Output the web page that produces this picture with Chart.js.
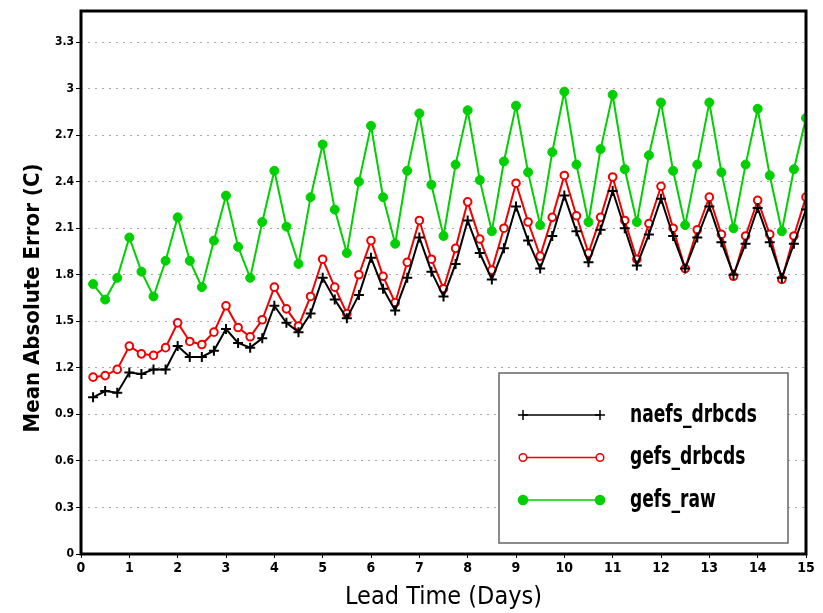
<!DOCTYPE html>
<html lang="en">
  <head>
    <meta charset="UTF-8" />
    <title>Mean Absolute Error</title>
    <script src="https://cdn.jsdelivr.net/npm/chart.js@4.4.1/dist/chart.umd.min.js"></script>
    <style>
      html,
      body {
        margin: 0;
        padding: 0;
        background: white;
      }
    </style>
  </head>
  <body>
    <canvas id="maeChart" width="823" height="613"></canvas>
    <script>
      // lead time (days), one point every 6 h
      const leadDays = [
        0.25, 0.5, 0.75, 1, 1.25, 1.5, 1.75, 2, 2.25, 2.5, 2.75, 3, 3.25, 3.5,
        3.75, 4, 4.25, 4.5, 4.75, 5, 5.25, 5.5, 5.75, 6, 6.25, 6.5, 6.75, 7,
        7.25, 7.5, 7.75, 8, 8.25, 8.5, 8.75, 9, 9.25, 9.5, 9.75, 10, 10.25,
        10.5, 10.75, 11, 11.25, 11.5, 11.75, 12, 12.25, 12.5, 12.75, 13, 13.25,
        13.5, 13.75, 14, 14.25, 14.5, 14.75, 15,
      ];

      const naefsDrbcds = [
        1.01, 1.05, 1.04, 1.17, 1.16, 1.19, 1.19, 1.34, 1.27, 1.27, 1.31, 1.45,
        1.36, 1.33, 1.39, 1.6, 1.49, 1.43, 1.55, 1.78, 1.64, 1.52, 1.67, 1.91,
        1.71, 1.57, 1.78, 2.04, 1.82, 1.66, 1.87, 2.15, 1.94, 1.77, 1.97, 2.24,
        2.02, 1.84, 2.05, 2.31, 2.08, 1.88, 2.09, 2.34, 2.1, 1.86, 2.06, 2.29,
        2.05, 1.84, 2.04, 2.24, 2.01, 1.8, 2.0, 2.23, 2.01, 1.78, 2.0, 2.22,
      ];

      const gefsDrbcds = [
        1.14, 1.15, 1.19, 1.34, 1.29, 1.28, 1.33, 1.49, 1.37, 1.35, 1.43, 1.6,
        1.46, 1.4, 1.51, 1.72, 1.58, 1.47, 1.66, 1.9, 1.72, 1.55, 1.8, 2.02,
        1.79, 1.62, 1.88, 2.15, 1.9, 1.71, 1.97, 2.27, 2.03, 1.83, 2.1, 2.39,
        2.14, 1.92, 2.17, 2.44, 2.18, 1.94, 2.17, 2.43, 2.15, 1.9, 2.13, 2.37,
        2.1, 1.84, 2.09, 2.3, 2.06, 1.79, 2.05, 2.28, 2.06, 1.77, 2.05, 2.3,
      ];

      const gefsRaw = [
        1.74, 1.64, 1.78, 2.04, 1.82, 1.66, 1.89, 2.17, 1.89, 1.72, 2.02, 2.31,
        1.98, 1.78, 2.14, 2.47, 2.11, 1.87, 2.3, 2.64, 2.22, 1.94, 2.4, 2.76,
        2.3, 2.0, 2.47, 2.84, 2.38, 2.05, 2.51, 2.86, 2.41, 2.08, 2.53, 2.89,
        2.46, 2.12, 2.59, 2.98, 2.51, 2.14, 2.61, 2.96, 2.48, 2.14, 2.57, 2.91,
        2.47, 2.12, 2.51, 2.91, 2.46, 2.1, 2.51, 2.87, 2.44, 2.08, 2.48, 2.81,
      ];

      const yTicks = [0, 0.3, 0.6, 0.9, 1.2, 1.5, 1.8, 2.1, 2.4, 2.7, 3, 3.3];
      const xTicks = [0, 1, 2, 3, 4, 5, 6, 7, 8, 9, 10, 11, 12, 13, 14, 15];

      const FONT = "'Liberation Sans Narrow', 'DejaVu Sans Condensed', 'Liberation Sans', sans-serif";

      const points = (vals) => leadDays.map((d, i) => ({ x: d, y: vals[i] }));

      // thick black box round the plot area
      const frame = {
        id: "frame",
        afterDraw(chart) {
          const { ctx, chartArea: a } = chart;
          ctx.save();
          ctx.strokeStyle = "#000";
          ctx.lineWidth = 3;
          ctx.strokeRect(a.left, a.top, a.right - a.left, a.bottom - a.top);
          ctx.restore();
        },
      };

      // y title sits a bit below the axis centre in the original
      const yTitle = {
        id: "yTitle",
        afterDraw(chart) {
          const { ctx } = chart;
          ctx.save();
          ctx.translate(33, 298);
          ctx.rotate(-Math.PI / 2);
          ctx.font = "bold 22px " + FONT;
          ctx.fillStyle = "#000";
          ctx.textAlign = "center";
          ctx.textBaseline = "middle";
          ctx.fillText("Mean Absolute Error (C)", 0, 0);
          ctx.restore();
        },
      };

      // legend box inside the lower right of the plot
      const boxLegend = {
        id: "boxLegend",
        afterDatasetsDraw(chart) {
          const { ctx } = chart;
          const x0 = 499, y0 = 373, w = 289, h = 170;
          ctx.save();
          ctx.fillStyle = "#fff";
          ctx.fillRect(x0, y0, w, h);
          ctx.strokeStyle = "#666";
          ctx.lineWidth = 1.5;
          ctx.strokeRect(x0, y0, w, h);
          chart.data.datasets.forEach((ds, i) => {
            const y = 415 + i * 42.5;
            ctx.strokeStyle = ds.borderColor;
            ctx.lineWidth = 1.5;
            ctx.beginPath();
            ctx.moveTo(523, y);
            ctx.lineTo(600, y);
            ctx.stroke();
            [523, 600].forEach((x) => {
              ctx.fillStyle = ds.pointBackgroundColor;
              ctx.strokeStyle = ds.pointBorderColor;
              Chart.helpers.drawPoint(
                ctx,
                {
                  pointStyle: ds.pointStyle,
                  radius: ds.pointRadius,
                  rotation: 0,
                  borderWidth: ds.pointBorderWidth,
                },
                x,
                y
              );
            });
            // tall narrow lettering like the original
            ctx.save();
            ctx.translate(630, y);
            ctx.scale(0.76, 1);
            ctx.fillStyle = "#000";
            ctx.font = "bold 25px " + FONT;
            ctx.textBaseline = "middle";
            ctx.fillText(ds.label, 0, 0);
            ctx.restore();
          });
          ctx.restore();
        },
      };

      new Chart(document.getElementById("maeChart"), {
        type: "line",
        data: {
          datasets: [
            {
              label: "naefs_drbcds",
              data: points(naefsDrbcds),
              borderColor: "#000",
              borderWidth: 2,
              pointStyle: "cross",
              pointRadius: 5,
              pointBorderWidth: 2,
              pointBackgroundColor: "#000",
              pointBorderColor: "#000",
            },
            {
              label: "gefs_drbcds",
              data: points(gefsDrbcds),
              borderColor: "#f00000",
              borderWidth: 2,
              pointStyle: "circle",
              pointRadius: 3.8,
              pointBorderWidth: 2,
              pointBackgroundColor: "#fff",
              pointBorderColor: "#f00000",
            },
            {
              label: "gefs_raw",
              data: points(gefsRaw),
              borderColor: "#00d000",
              borderWidth: 2,
              pointStyle: "circle",
              pointRadius: 4.5,
              pointBorderWidth: 1,
              pointBackgroundColor: "#00d000",
              pointBorderColor: "#00d000",
            },
          ],
        },
        options: {
          responsive: false,
          animation: false,
          devicePixelRatio: 1,
          layout: { padding: { top: 11, right: 17, left: 0, bottom: 0 } },
          plugins: {
            legend: { display: false },
            tooltip: { enabled: false },
          },
          scales: {
            x: {
              type: "linear",
              min: 0,
              max: 15,
              afterBuildTicks: (s) => {
                s.ticks = xTicks.map((v) => ({ value: v }));
              },
              afterFit: (s) => {
                s.height = 59;
              },
              grid: {
                drawOnChartArea: false,
                tickLength: 4,
                tickColor: "#000",
              },
              border: { display: false },
              ticks: {
                autoSkip: false,
                maxRotation: 0,
                padding: 2,
                color: "#000",
                font: { family: FONT, size: 14, weight: "bold" },
              },
              title: {
                display: true,
                text: "Lead Time (Days)",
                color: "#000",
                font: { family: FONT, size: 25 },
                padding: { top: 0, bottom: 1 },
              },
            },
            y: {
              min: 0,
              max: 3.5,
              afterBuildTicks: (s) => {
                s.ticks = yTicks.map((v) => ({ value: v }));
              },
              afterFit: (s) => {
                s.width = 81;
              },
              grid: {
                color: "#aaa",
                lineWidth: 1,
                tickLength: 5,
                tickColor: "#000",
                tickWidth: 1,
              },
              border: { display: false, dash: [2, 5] },
              ticks: {
                padding: 2,
                color: "#000",
                font: { family: FONT, size: 12, weight: "bold" },
                callback: (v) => String(+v.toFixed(1)),
              },
            },
          },
        },
        plugins: [boxLegend, frame, yTitle],
      });
    </script>
  </body>
</html>
